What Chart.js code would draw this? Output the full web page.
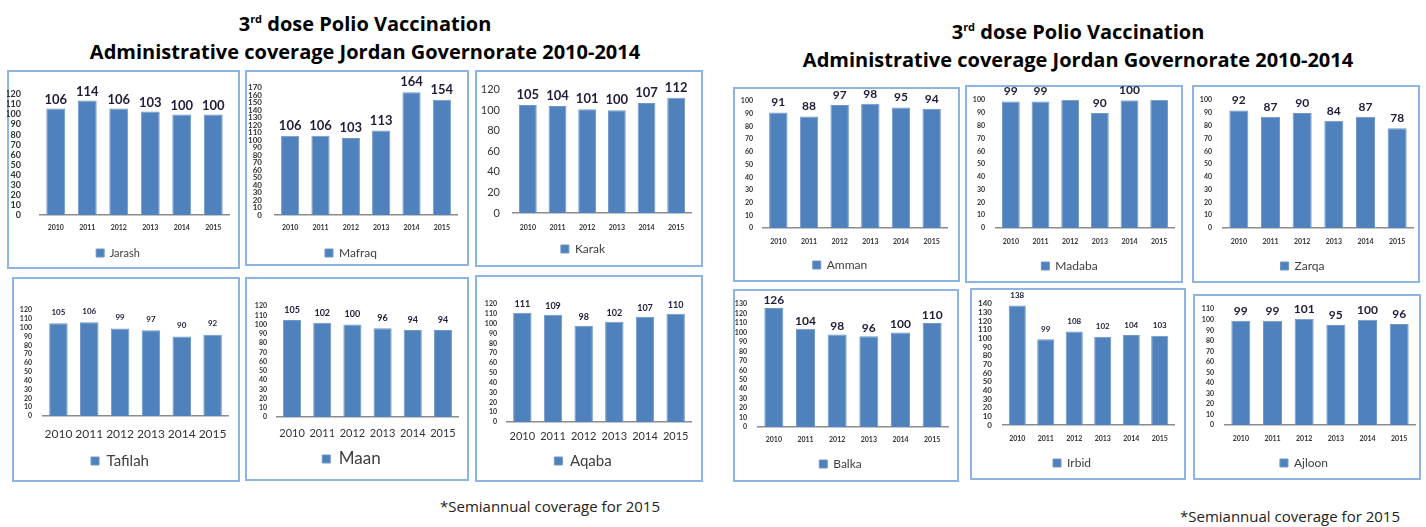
<!DOCTYPE html>
<html>
<head>
<meta charset="utf-8">
<script src="https://cdn.jsdelivr.net/npm/chart.js@4"></script>
<style>
  body { margin: 0; width: 1426px; height: 527px; background: #fff; position: relative; overflow: hidden; font-family: Lato, sans-serif; }
  .box { position: absolute; box-shadow: inset 0 0 0 2px #8db4e2; }
  .title { position: absolute; text-align: center; font-family: "Open Sans", sans-serif; font-weight: bold; font-size: 20px; color: #000; line-height: 28px; }
  .title sup { font-size: 11px; }
  .note { position: absolute; font-family: "Open Sans", sans-serif; font-size: 15px; color: #222; }
</style>
</head>
<body>
<div class="title" style="left:60px; top:5px; width:610px;">3<sup>rd</sup> dose Polio Vaccination<br>Administrative coverage Jordan Governorate 2010-2014</div>
<div class="title" style="left:778px; top:13px; width:600px;">3<sup>rd</sup> dose Polio Vaccination<br>Administrative coverage Jordan Governorate 2010-2014</div>
<div class="note" style="left:440px; top:496px;">*Semiannual coverage for 2015</div>
<div class="note" style="left:1180px; top:506px;">*Semiannual coverage for 2015</div>

<script>
// datos
const years = ['2010', '2011', '2012', '2013', '2014', '2015'];

const jarash  = [106, 114, 106, 103, 100, 100];
const mafraq  = [106, 106, 103, 113, 164, 154];
const karak   = [105, 104, 101, 100, 107, 112];
const tafilah = [105, 106, 99, 97, 90, 92];
const maan    = [105, 102, 100, 96, 94, 94];
const aqaba   = [111, 109, 98, 102, 107, 110];
const amman   = [91, 88, 97, 98, 95, 94];
const madaba  = [99, 99, 103, 90, 100, 101];
const zarqa   = [92, 87, 90, 84, 87, 78];
const balka   = [126, 104, 98, 96, 100, 110];
const irbid   = [138, 99, 108, 102, 104, 103];
const ajloon  = [99, 99, 101, 95, 100, 96];

const yMaxes = [120, 170, 120, 120, 120, 120, 100, 100, 100, 130, 140, 110];
const ySteps = [10, 10, 20, 10, 10, 10, 10, 10, 10, 10, 10, 10];

// posiciones de cada recuadro: box [x,y,w,h], plot [left,right,top,bottom]
const charts = [
  { name: 'Jarash',  data: jarash,  box: [7, 70, 233, 199],    plot: [40, 229, 82, 215],      yr: 21,   yf: 9,  xy: 228, xf: 7,  ly: 253, lf: 11, df: 13, gap: 9 },
  { name: 'Mafraq',  data: mafraq,  box: [245, 70, 224, 196],  plot: [275, 457, 80, 215],     yr: 262,  yf: 8,  xy: 228, xf: 7,  ly: 253, lf: 12, df: 13, gap: 10 },
  { name: 'Karak',   data: karak,   box: [475, 70, 228, 197],  plot: [513, 691, 84, 213],     yr: 500,  yf: 11, xy: 228, xf: 7,  ly: 249, lf: 12, df: 13, gap: 10 },
  { name: 'Tafilah', data: tafilah, box: [12, 277, 228, 205],  plot: [43, 228, 310, 416],     yr: 32,   yf: 7,  xy: 434, xf: 12, ly: 461, lf: 15, df: 8,  gap: 11 },
  { name: 'Maan',    data: maan,    box: [245, 277, 224, 204], plot: [277, 458, 306, 417],    yr: 267,  yf: 7,  xy: 433, xf: 11, ly: 459, lf: 17, df: 9,  gap: 10 },
  { name: 'Aqaba',   data: aqaba,   box: [475, 275, 228, 207], plot: [507, 691, 304, 422],    yr: 497,  yf: 7,  xy: 436, xf: 11, ly: 461, lf: 15, df: 9,  gap: 9 },
  { name: 'Amman',   data: amman,   box: [733, 87, 227, 195],  plot: [763, 947, 98, 228],     yr: 753,  yf: 7,  xy: 242, xf: 7,  ly: 265, lf: 12, df: 12, gap: 10 },
  { name: 'Madaba',  data: madaba,  box: [965, 85, 218, 198],  plot: [996, 1174, 97, 228],    yr: 985,  yf: 7,  xy: 242, xf: 7,  ly: 266, lf: 12, df: 12, gap: 10 },
  { name: 'Zarqa',   data: zarqa,   box: [1192, 85, 228, 198], plot: [1223, 1413, 97, 228],   yr: 1212, yf: 7,  xy: 242, xf: 7,  ly: 266, lf: 12, df: 12, gap: 10 },
  { name: 'Balka',   data: balka,   box: [733, 289, 226, 193], plot: [758, 948, 299, 427],    yr: 747,  yf: 7,  xy: 440, xf: 7,  ly: 464, lf: 12, df: 12, gap: 8 },
  { name: 'Irbid',   data: irbid,   box: [970, 288, 216, 192], plot: [1003, 1174, 299, 425],  yr: 992,  yf: 8,  xy: 439, xf: 7,  ly: 463, lf: 12, df: 8,  gap: 10 },
  { name: 'Ajloon',  data: ajloon,  box: [1193, 294, 228, 186], plot: [1225, 1415, 306, 425], yr: 1214, yf: 7,  xy: 439, xf: 7,  ly: 463, lf: 12, df: 12, gap: 10 }
];

// etiquetas encima de cada barra
const barLabels = {
  id: 'barLabels',
  afterDatasetsDraw(chart, args, opts) {
    const ctx = chart.ctx;
    const meta = chart.getDatasetMeta(0);
    const values = chart.data.datasets[0].data;
    const max = chart.scales.y.max;
    ctx.save();
    ctx.font = 'bold ' + opts.size + 'px Lato';
    ctx.fillStyle = '#1f1d3a';
    ctx.textAlign = 'center';
    ctx.textBaseline = 'middle';
    meta.data.forEach((bar, i) => {
      if (values[i] > max) return;
      ctx.fillText(String(values[i]), bar.x, bar.y - opts.gap);
    });
    ctx.restore();
  }
};

charts.forEach((c, idx) => {
  const [bx, by, bw, bh] = c.box;
  const [pl, pr, pt, pb] = c.plot;
  const wrap = document.createElement('div');
  wrap.className = 'box';
  wrap.style.left = bx + 'px';
  wrap.style.top = by + 'px';
  wrap.style.width = bw + 'px';
  wrap.style.height = bh + 'px';
  const cv = document.createElement('canvas');
  wrap.appendChild(cv);
  document.body.appendChild(wrap);

  const legPad = 2;
  const bottom = by + bh;
  const padB = bottom - c.ly - 10 - c.lf / 2;
  const legendTop = bottom - padB - (c.lf + legPad + 10);

  new Chart(cv, {
    type: 'bar',
    data: {
      labels: years,
      datasets: [{
        label: c.name,
        data: c.data,
        backgroundColor: '#4f81bd',
        borderColor: '#6f97c8',
        borderWidth: 1,
        barPercentage: 0.6,
        categoryPercentage: 1
      }]
    },
    options: {
      responsive: true,
      maintainAspectRatio: false,
      animation: false,
      layout: { padding: { left: 0, right: bx + bw - pr, top: pt - by, bottom: padB } },
      plugins: {
        legend: {
          position: 'bottom',
          labels: { boxWidth: 8, boxHeight: 8, padding: legPad, color: '#404040', font: { family: 'Lato', size: c.lf } }
        },
        tooltip: { enabled: false },
        barLabels: { size: c.df, gap: c.gap }
      },
      scales: {
        x: {
          grid: { display: false, drawTicks: false },
          border: { color: '#8c8c8c', width: 1.5 },
          ticks: {
            color: '#333', autoSkip: false, maxRotation: 0,
            padding: c.xy - pb - c.xf * 0.6,
            font: { family: 'Lato', size: c.xf, weight: c.xf < 9 ? 'bold' : 'normal' }
          },
          afterFit: s => { s.height = legendTop - pb; }
        },
        y: {
          min: 0,
          max: yMaxes[idx],
          grid: { display: false, drawTicks: false },
          border: { display: false },
          ticks: {
            stepSize: ySteps[idx], autoSkip: false, color: '#333',
            padding: pl - c.yr,
            font: { family: 'Lato', size: c.yf, weight: c.yf < 10 ? 'bold' : 'normal' }
          },
          afterFit: s => { s.width = pl - bx; }
        }
      }
    },
    plugins: [barLabels]
  });
});
</script>
</body>
</html>
